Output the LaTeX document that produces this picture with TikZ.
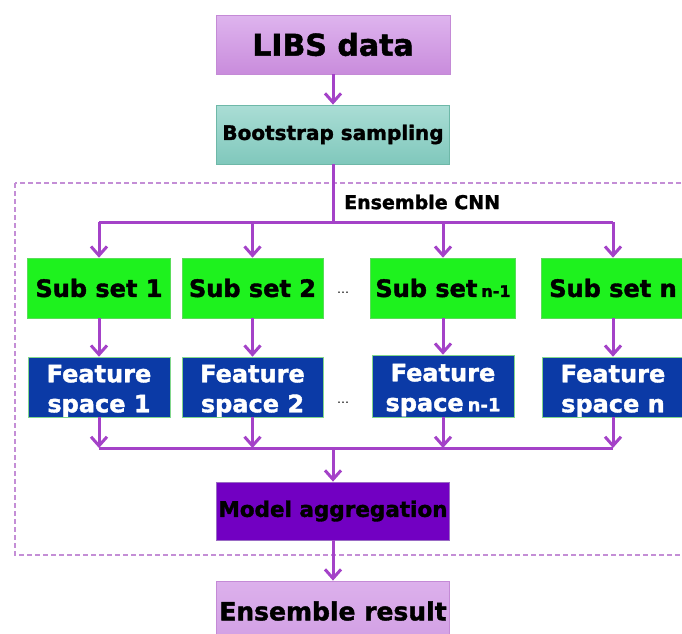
\documentclass[tikz,border=0pt]{standalone}
\usepackage{fontspec}
\setmainfont{DejaVu Sans}[BoldFeatures={FakeBold=1.6}]
\usetikzlibrary{arrows.meta,calc}

\definecolor{flowc}{RGB}{164,66,200}
\definecolor{dashc}{RGB}{196,142,214}
\definecolor{libstop}{RGB}{222,180,238}
\definecolor{libsbot}{RGB}{201,140,220}
\definecolor{libsedge}{RGB}{196,138,214}
\definecolor{boottop}{RGB}{170,221,213}
\definecolor{bootbot}{RGB}{128,200,188}
\definecolor{bootedge}{RGB}{110,184,168}
\definecolor{subfill}{RGB}{30,242,30}
\definecolor{subedge}{RGB}{90,220,90}
\definecolor{featfill}{RGB}{11,58,166}
\definecolor{featedge}{RGB}{130,215,140}
\definecolor{aggfill}{RGB}{114,0,194}
\definecolor{aggedge}{RGB}{154,107,196}
\definecolor{restop}{RGB}{220,176,236}
\definecolor{resbot}{RGB}{210,160,228}

\tikzset{
  flow/.style={draw=flowc, line width=3pt},
  flowarrow/.style={flow, -{Straight Barb[length=9pt,width=16pt,line width=3pt]}},
  dashbox/.style={draw=dashc, line width=1.1pt, dash pattern=on 5pt off 3pt},
  topbox/.style={draw=libsedge, line width=0.8pt, top color=libstop, bottom color=libsbot,
    minimum width=234pt, minimum height=59pt, inner sep=0pt,
    font=\fontsize{30}{30}\selectfont\bfseries},
  bootbox/.style={draw=bootedge, line width=0.8pt, top color=boottop, bottom color=bootbot,
    minimum width=233pt, minimum height=59pt, inner sep=0pt,
    font=\fontsize{20}{20}\selectfont\bfseries},
  subbox/.style={draw=subedge, line width=0.6pt, fill=subfill,
    minimum width=143pt, minimum height=60pt, inner sep=0pt,
    font=\fontsize{24}{24}\selectfont\bfseries},
  featbox/.style={draw=featedge, line width=0.6pt, fill=featfill,
    minimum width=142pt, minimum height=60pt, inner sep=0pt},
  feattext/.style={text=white, align=center, inner sep=0pt,
    font=\fontsize{24}{30}\selectfont\bfseries},
  % label of a feature-space box, clipped by the box outline
  featlabel/.style={path picture={\node[feattext] at ([yshift=-4pt]path picture bounding box.center) {#1};}},
  aggbox/.style={draw=aggedge, line width=0.8pt, fill=aggfill,
    minimum width=233pt, minimum height=58pt, inner sep=0pt,
    font=\fontsize{21.5}{21.5}\selectfont\bfseries},
  resbox/.style={draw=libsedge, line width=0.8pt, top color=restop, bottom color=resbot,
    minimum width=233pt, minimum height=60pt, inner sep=0pt,
    font=\fontsize{25}{25}\selectfont\bfseries},
  dotstext/.style={font=\fontsize{12}{12}\selectfont, inner sep=0pt},
  groupname/.style={font=\fontsize{19}{19}\selectfont\bfseries, inner sep=0pt, anchor=west}
}

\begin{document}
\begin{tikzpicture}[x=1pt,y=-1pt]
\useasboundingbox (0,0) rectangle (682,633);
\clip (0,0) rectangle (682,633);

% ensemble frame
\draw[dashbox] (15,183) rectangle (700,555);
\node[groupname] (cnn) at (344,202) {Ensemble CNN};

% main column
\node[topbox]  (libs) at (333,44.5)  {LIBS data};
\node[bootbox] (boot) at (333,134.5) {Bootstrap sampling};

% subsets
\node[subbox] (s1) at (99,288)  {Sub set 1};
\node[subbox, minimum width=141pt] (s2) at (252.5,288) {Sub set 2};
\node[subbox, minimum width=145pt] (s3) at (443,288) {Sub set\,{\fontsize{16}{16}\selectfont n-1}};
\node[subbox, minimum width=144pt] (s4) at (613,288)  {Sub set n};
\node[dotstext] (d1) at (343,293) {…};

% feature spaces
\node[featbox, featlabel={Feature\\space 1}] (f1) at (99,387) {};
\node[featbox, minimum width=141pt, featlabel={Feature\\space 2}] (f2) at (252.5,387) {};
\node[featbox, minimum height=62pt, featlabel={Feature\\space\,{\fontsize{18}{18}\selectfont n-1}}] (f3) at (443,386) {};
\node[featbox, featlabel={Feature\\space n}] (f4) at (613,387) {};
\node[dotstext] (d2) at (343,403) {…};

% aggregation and result
\node[aggbox] (agg) at (333,511) {Model aggregation};
\node[resbox] (res) at (333,611) {Ensemble result};

% junction points
\coordinate (split) at (333,222);
\coordinate (merge) at (333,448);

% connectors
\draw[flowarrow] (libs) -- (boot);
\draw[flow] (boot) -- (split);
\draw[flow] (split) -- (s1.north |- split);
\draw[flow] (split) -- (s4.north |- split);
\foreach \s in {s1,s2,s3,s4}
  \draw[flowarrow] (\s.north |- split) -- (\s.north);
\draw[flowarrow] (s1) -- (f1);
\draw[flowarrow] (s2) -- (f2);
\draw[flowarrow] (s3) -- (f3);
\draw[flowarrow] (s4) -- (f4);
\draw[flow] (f1.south |- merge) -- (f4.south |- merge);
\draw[flowarrow] (f1) -- (f1.south |- merge);
\draw[flowarrow] (f2) -- (f2.south |- merge);
\draw[flowarrow] (f3) -- (f3.south |- merge);
\draw[flowarrow] (f4) -- (f4.south |- merge);
\draw[flowarrow] (merge) -- (agg);
\draw[flowarrow] (agg) -- (res);
\end{tikzpicture}
\end{document}
